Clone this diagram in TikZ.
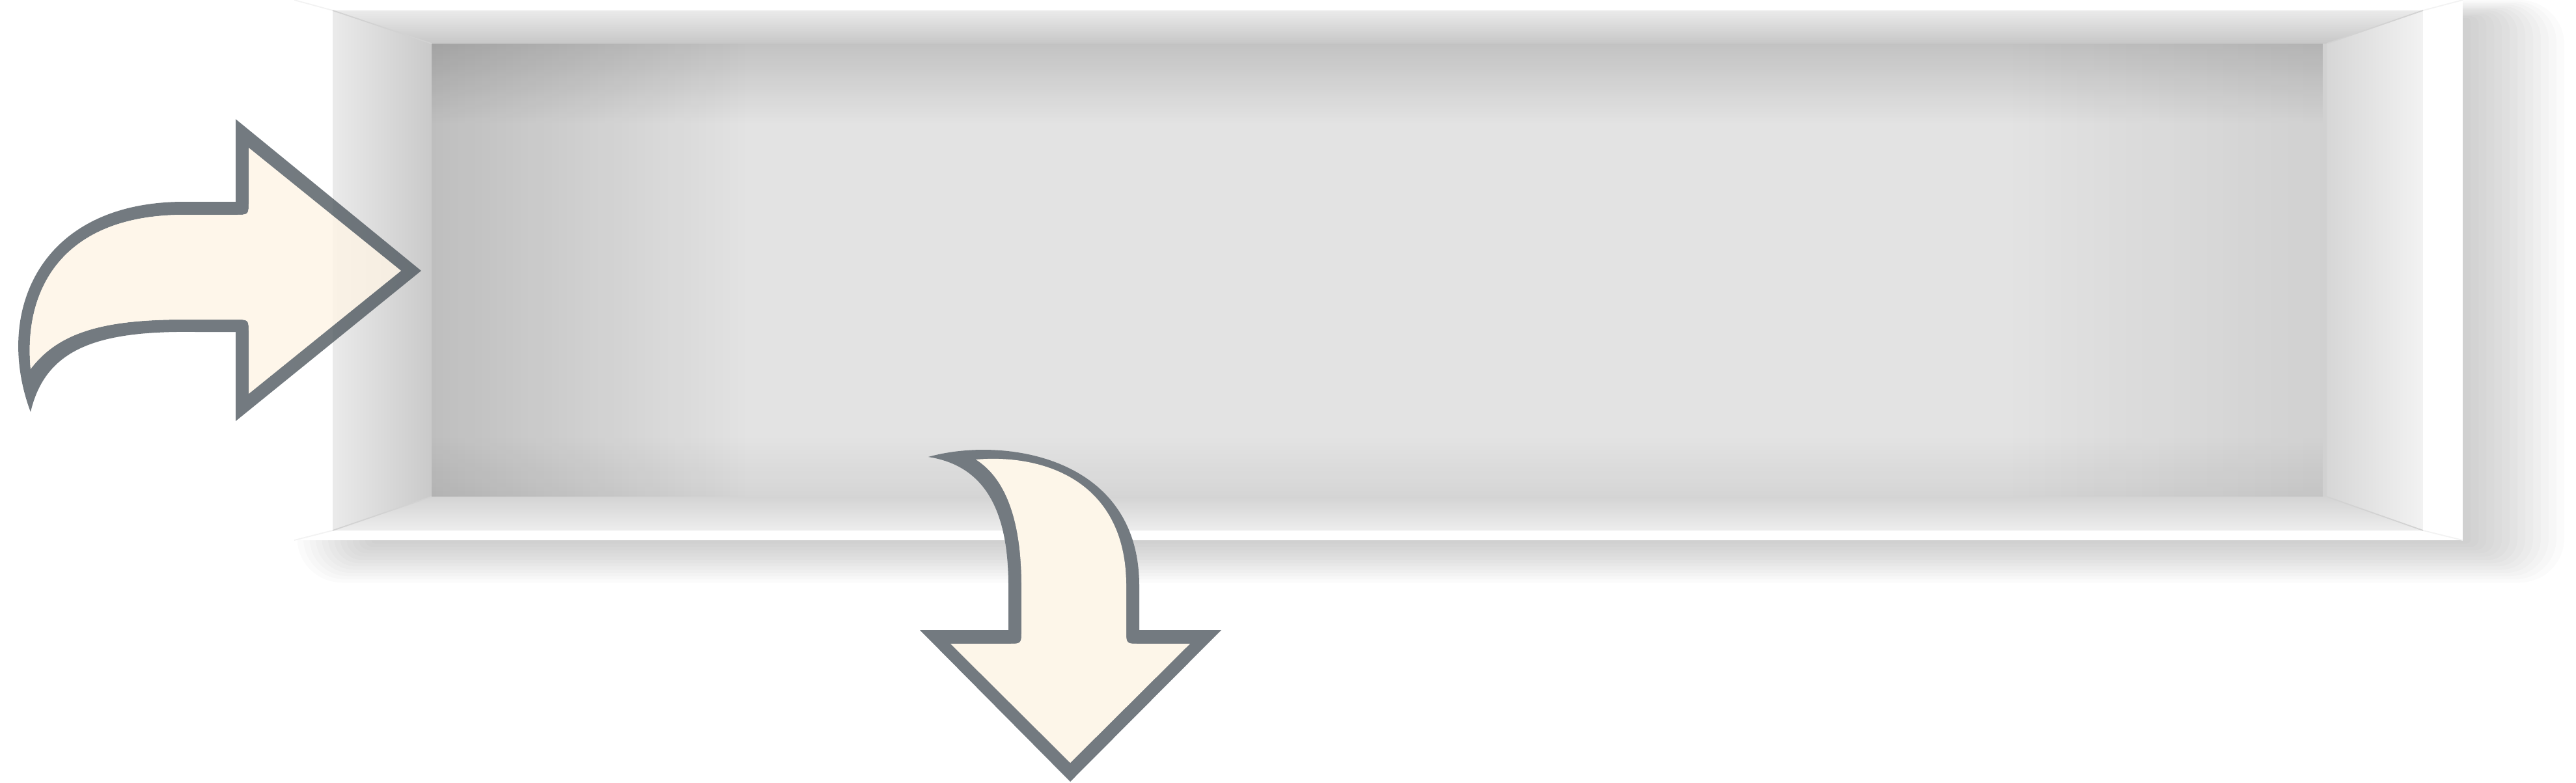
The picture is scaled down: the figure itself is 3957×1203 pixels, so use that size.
\documentclass[tikz,border=0pt]{standalone}
\usepackage{tikz}
\usetikzlibrary{fadings}

\definecolor{rimgray}{RGB}{80,89,96}
\definecolor{coregray}{RGB}{115,122,128}
\definecolor{creamt}{RGB}{254,244,229}
\definecolor{cream}{RGB}{253,246,233}
\definecolor{wallgray}{RGB}{227,227,227}
\definecolor{edgegray}{RGB}{210,210,210}

\tikzfading[name=fadetop, top color=transparent!0, bottom color=transparent!100]
\tikzfading[name=fadebottom, top color=transparent!100, bottom color=transparent!0]
\tikzfading[name=fadeleft, left color=transparent!0, right color=transparent!100]
\tikzfading[name=faderight, left color=transparent!100, right color=transparent!0]

% outlines of the two bent arrows (pixel units, y downwards)
\newcommand\inarrowrim{(47,633) .. controls (-10,480) and (60,310) .. (283,310) -- (362,310) -- (362,183) -- (647,416) -- (362,647) -- (362,510) -- (300,510) .. controls (150,508) and (70,535) .. (47,633) -- cycle}
\newcommand\inarrowcore{(47,567) .. controls (35,440) and (100,330) .. (283,330) -- (362,330) .. controls (382,330) .. (382,310) -- (382,227) -- (616,416) -- (382,605) -- (382,511) .. controls (382,491) .. (362,491) -- (283,491) .. controls (160,491) and (90,510) .. (47,567) -- cycle}
\newcommand\outarrowrim{(1426,702) .. controls (1540,670) and (1750,700) .. (1750,900) -- (1750,968) -- (1876,968) -- (1644,1201) -- (1413,968) -- (1549,968) -- (1549,900) .. controls (1549,780) and (1510,715) .. (1426,702) -- cycle}
\newcommand\outarrowcore{(1499,706) .. controls (1605,697) and (1730,740) .. (1730,900) -- (1730,969) .. controls (1730,989) .. (1750,989) -- (1828,989) -- (1644,1172) -- (1460,989) -- (1549,989) .. controls (1569,989) .. (1569,969) -- (1569,900) .. controls (1569,800) and (1545,735) .. (1499,706) -- cycle}

\begin{document}
\begin{tikzpicture}[x=0.01cm, y=-0.01cm,
    shelfedge/.style={draw=edgegray, line width=0.5pt},
    frameedge/.style={draw=black!5, line width=0.5pt}]
  \useasboundingbox (0,0) rectangle (3957,1203);
  % corners of the shelf: frame, opening, back wall
  \coordinate (fo-nw) at (452,0);    \coordinate (fo-ne) at (3783,0);
  \coordinate (fo-sw) at (452,830);  \coordinate (fo-se) at (3783,830);
  \coordinate (fi-nw) at (511,16);   \coordinate (fi-ne) at (3722,16);
  \coordinate (fi-sw) at (511,815);  \coordinate (fi-se) at (3722,815);
  \coordinate (bk-nw) at (663,67);   \coordinate (bk-ne) at (3574,67);
  \coordinate (bk-sw) at (663,763);  \coordinate (bk-se) at (3574,763);

  % soft drop shadow
  \foreach \i in {1,...,13}
    \fill[black, opacity=0.017, rounded corners=\i*1.5pt]
      (580-9.5*\i, 30-2.3*\i) rectangle (3783+12*\i, 830+5*\i);

  % front frame
  \fill[white] (fo-nw) rectangle (fo-se);

  % back wall
  \fill[wallgray] (bk-nw) rectangle (bk-se);
  \fill[black, opacity=0.14, path fading=fadetop] (bk-nw) rectangle (3574,190);
  \fill[black, opacity=0.06, path fading=fadebottom] (663,670) rectangle (bk-se);
  \fill[black, opacity=0.16, path fading=fadeleft] (bk-nw) rectangle (1150,763);
  \fill[black, opacity=0.08, path fading=faderight] (3080,67) rectangle (bk-se);

  % ceiling, side walls, floor
  \shade[top color=black!8, bottom color=black!22]
    (fi-nw) -- (fi-ne) -- (bk-ne) -- (bk-nw) -- cycle;
  \shade[left color=black!8, right color=black!21]
    (fi-nw) -- (bk-nw) -- (bk-sw) -- (fi-sw) -- cycle;
  \shade[left color=black!16, right color=black!5]
    (bk-ne) -- (fi-ne) -- (fi-se) -- (bk-se) -- cycle;
  \shade[top color=black!17, bottom color=black!7]
    (bk-sw) -- (bk-se) -- (fi-se) -- (fi-sw) -- cycle;

  % faint edges
  \draw[frameedge] (fo-nw) -- (fi-nw);
  \draw[frameedge] (fo-ne) -- (fi-ne);
  \draw[frameedge] (fo-sw) -- (fi-sw);
  \draw[frameedge] (fo-se) -- (fi-se);
  \draw[shelfedge] (fi-nw) -- (bk-nw);
  \draw[shelfedge] (fi-ne) -- (bk-ne);
  \draw[shelfedge] (fi-sw) -- (bk-sw);
  \draw[shelfedge] (fi-se) -- (bk-se);

  % arrow going in (see-through)
  \fill[rimgray, opacity=0.8, even odd rule] \inarrowrim \inarrowcore;
  \fill[creamt, opacity=0.8] \inarrowcore;

  % arrow coming out
  \fill[coregray] \outarrowrim;
  \fill[cream] \outarrowcore;
\end{tikzpicture}
\end{document}
